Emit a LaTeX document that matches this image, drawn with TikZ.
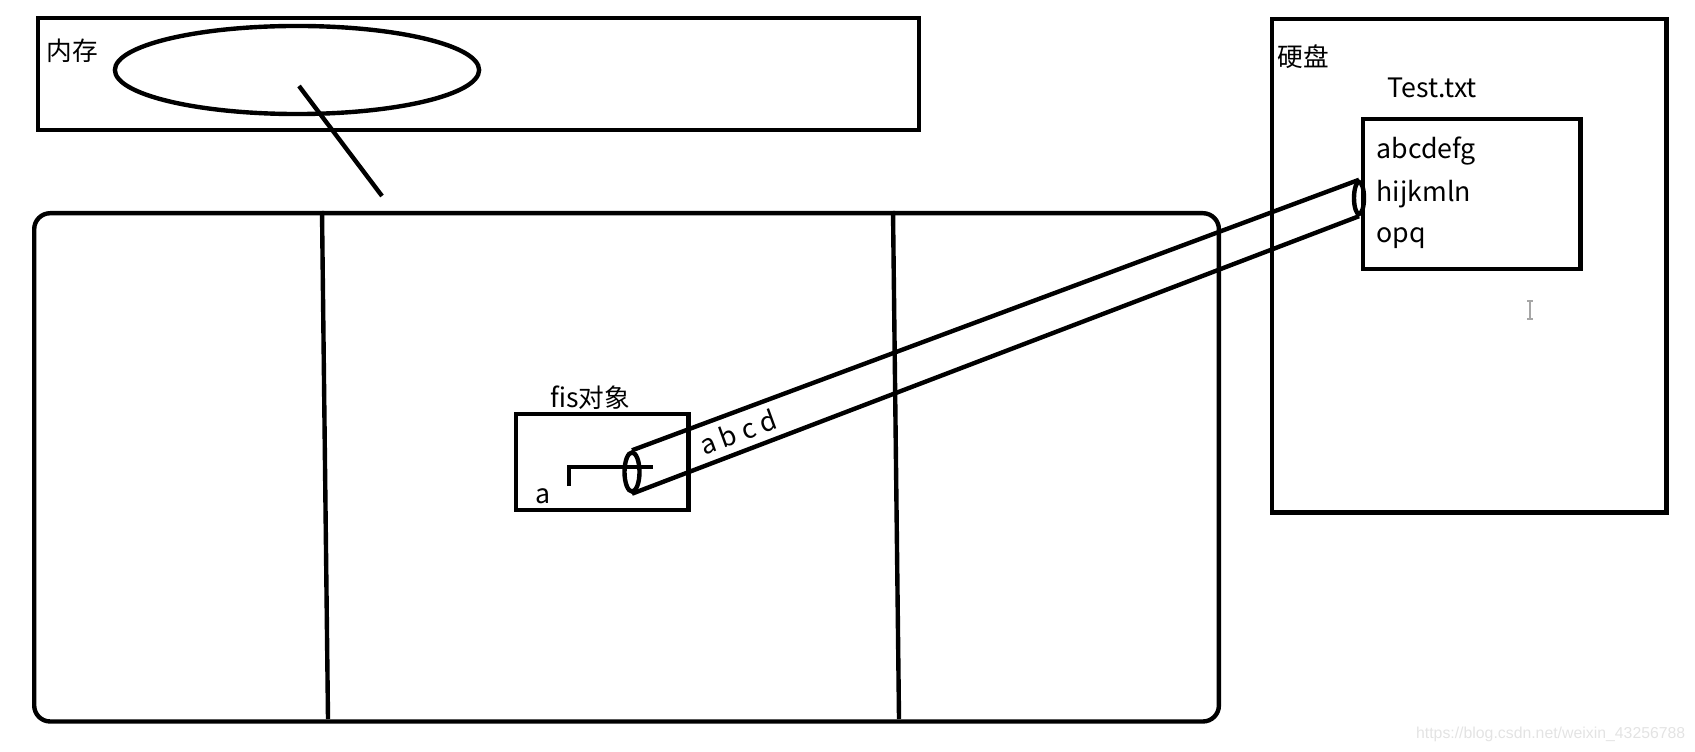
\documentclass[tikz,border=0pt]{standalone}
\usepackage{fontspec}
\setmainfont{Noto Sans CJK SC}
\newfontfamily\wmfont{Liberation Sans}
\usetikzlibrary{shapes.geometric}
\begin{document}
\begin{tikzpicture}[x=0.01cm,y=-0.01cm,
  thick line/.style={line width=1.25pt},
  box/.style={draw, thick line, rectangle, anchor=north west, inner sep=0pt},
  lat/.style={font=\fontsize{7.6}{9}\selectfont, inner sep=0pt},
  cjk/.style={font=\fontsize{7.3}{8}\selectfont, inner sep=0pt},
  ring/.style={draw, thick line, ellipse, inner sep=0pt}]
\useasboundingbox (0,0) rectangle (1695,752);
% memory
\node[box, minimum width=8.80cm, minimum height=1.12cm] (mem) at (36,16) {};
\node[cjk] (memlbl) at (72,51) {内存};
\node[ring, minimum width=3.64cm, minimum height=0.88cm] (heap) at (297,70) {};
% stack / process area
\node[box, rounded corners=0.16cm, minimum width=11.84cm, minimum height=5.08cm] (proc) at (32,211) {};
\draw[thick line] (322,211) -- (328,719);
\draw[thick line] (893,211) -- (899,719);
\coordinate (ptrA) at (299,86);
\coordinate (ptrB) at (382,196);
\draw[thick line] (ptrA) -- (ptrB);
% fis object
\node[box, minimum width=1.72cm, minimum height=0.96cm] (fis) at (514,412) {};
\node[lat] (fislbl) at (590,398) {fis{\fontsize{7.3}{8}\selectfont 对象}};
\node[lat] (alab) at (543,496) {a};
\coordinate (hk1) at (569,486);
\coordinate (hk2) at (569,467);
\coordinate (hk3) at (653,467);
\draw[thick line] (hk1) -- (hk2) -- (hk3);
\node[ring, minimum width=0.15cm, minimum height=0.39cm] (lend) at (632,472) {};
% disk
\node[box, minimum width=3.94cm, minimum height=4.93cm] (disk) at (1270,17) {};
\node[cjk] (disklbl) at (1303,57) {硬盘};
\node[lat] (fname) at (1432,88) {Test.txt};
\node[box, minimum width=2.17cm, minimum height=1.50cm] (file) at (1361,117) {};
\node[lat, anchor=base west] (l1) at (1376,159) {abcdefg};
\node[lat, anchor=base west] (l2) at (1376,202) {hijkmln};
\node[lat, anchor=base west] (l3) at (1376,243) {opq};
\node[ring, minimum width=0.10cm, minimum height=0.32cm] (rend) at (1359,198) {};
% stream tube
\draw[thick line] (lend.north) -- (rend.north);
\draw[thick line] (lend.south) -- (rend.south);
\node[lat, rotate=20] (bytes) at (738,432) {a b c d};
% cursor
\draw[gray!70, line width=0.8pt] (1530,301) -- (1530,319) (1527,301) -- (1533,301) (1527,319) -- (1533,319);
% watermark
\node[font=\wmfont\fontsize{4.5}{5}\selectfont, text=gray!22, anchor=east, inner sep=0pt] (wm) at (1686,734) {https://blog.csdn.net/weixin\_43256788};
\end{tikzpicture}
\end{document}
